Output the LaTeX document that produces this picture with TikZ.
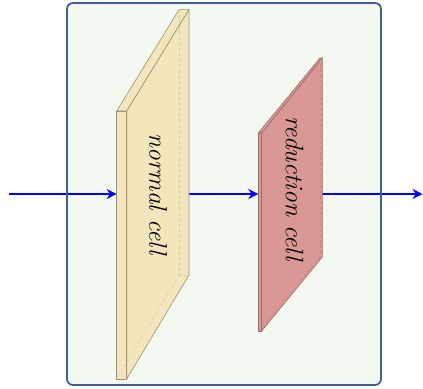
\documentclass[tikz,border=0pt]{standalone}
\usetikzlibrary{arrows.meta}
\definecolor{panelfill}{HTML}{F3F8F0}
\definecolor{paneledge}{HTML}{3F5E9C}
\definecolor{normfill}{HTML}{F4E6BC}
\definecolor{normedge}{HTML}{9C9070}
\definecolor{normhid}{HTML}{D8CCA8}
\definecolor{redfill}{HTML}{D99894}
\definecolor{rededge}{HTML}{9A6C68}
\definecolor{redhid}{HTML}{C48480}
\tikzset{
  panel/.style={rounded corners=6bp},
  flow/.style={draw=blue, line width=1.3bp, -{Stealth[length=10bp,width=10bp]}},
  normface/.style={fill=normfill, draw=normedge, line width=0.6bp, line join=round},
  redface/.style={fill=redfill, draw=rededge, line width=0.6bp, line join=round},
  hidden/.style={dashed, dash pattern=on 3bp off 2.5bp, line width=0.5bp},
  celllabel/.style={rotate=-90, inner sep=0pt, font=\fontsize{25.5}{30}\selectfont\itshape}
}
\begin{document}
\begin{tikzpicture}[x=1bp, y=-1bp]
\useasboundingbox (0,0) rectangle (423,389);

% panel background
\fill[panelfill, panel] (67,3) rectangle (381,385);

% anchor points for the data flow
\coordinate (in)  at (9,194);
\coordinate (out) at (422.5,194);
\coordinate (nfront) at (116.7,194);
\coordinate (nback)  at (189,194);
\coordinate (rfront) at (258.3,194);
\coordinate (rback)  at (322.3,194);

\draw[flow] (in) -- (nfront);
\draw[flow] (nback) -- (rfront);
\draw[flow] (rback) -- (out);

% panel border
\draw[paneledge, line width=1.8bp, panel] (67,3) rectangle (381,385);

% normal cell slab
\draw[normface] (116.7,111) rectangle (126.7,379);
\draw[normface] (126.7,111) -- (189,9.3) -- (189,275) -- (126.7,379) -- cycle;
\draw[normface] (116.7,111) -- (179.3,9.3) -- (189,9.3) -- (126.7,111) -- cycle;
\draw[hidden, normhid] (179.3,9.3) -- (179.3,275) -- (189,275);
\draw[hidden, normhid] (179.3,275) -- (116.7,379);
\node[celllabel] (ncell) at (158,194.5) {normal cell};

% reduction cell slab
\draw[redface] (258.3,133) rectangle (261.7,331);
\draw[redface] (261.7,133) -- (322.3,58) -- (322.3,257) -- (261.7,331) -- cycle;
\draw[redface] (258.3,133) -- (320,58) -- (322.3,58) -- (261.7,133) -- cycle;
\draw[hidden, redhid] (320,58) -- (320,257) -- (322.3,257);
\draw[hidden, redhid] (320,257) -- (258.3,331);
\node[celllabel] (rcell) at (294.5,189) {reduction cell};
\end{tikzpicture}
\end{document}
